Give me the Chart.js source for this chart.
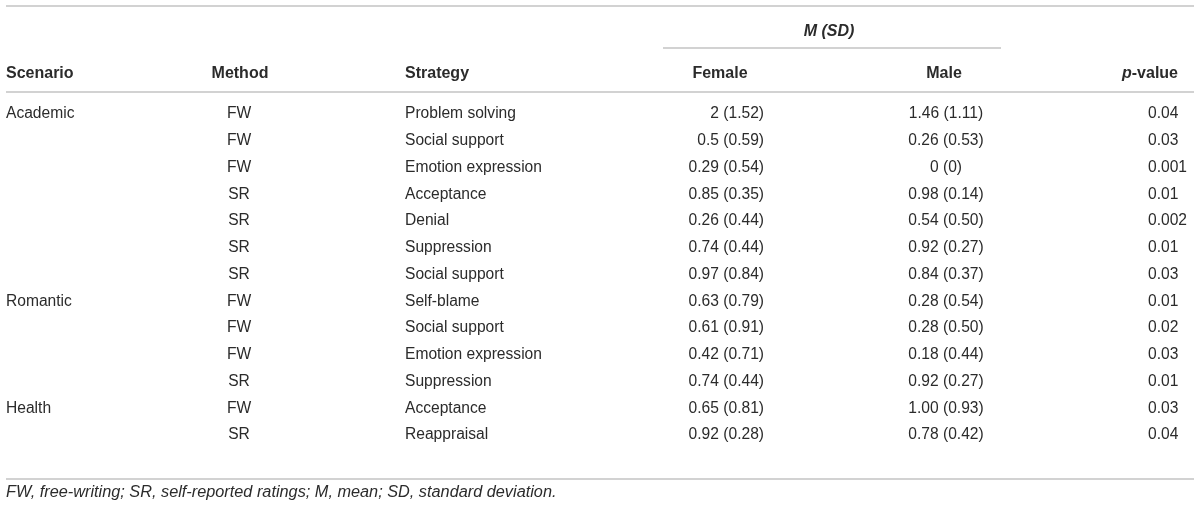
<!DOCTYPE html>
<html>
<head>
<meta charset="utf-8">
<script src="https://cdn.jsdelivr.net/npm/chart.js@4/dist/chart.umd.min.js"></script>
<style>
  html, body { margin: 0; padding: 0; background: #fff; }
  #tableChart { display: block; }
</style>
</head>
<body>
<canvas id="tableChart" width="1200" height="510"></canvas>
<script>
// Table content
const headers = ['Scenario', 'Method', 'Strategy', 'Female', 'Male', 'p-value'];
const groupHeader = 'M (SD)';
const scenarios = ['Academic', '', '', '', '', '', '', 'Romantic', '', '', '', 'Health', ''];
const methods = ['FW', 'FW', 'FW', 'SR', 'SR', 'SR', 'SR', 'FW', 'FW', 'FW', 'SR', 'FW', 'SR'];
const strategies = ['Problem solving', 'Social support', 'Emotion expression', 'Acceptance', 'Denial',
    'Suppression', 'Social support', 'Self-blame', 'Social support', 'Emotion expression',
    'Suppression', 'Acceptance', 'Reappraisal'];
const femaleMean = ['2', '0.5', '0.29', '0.85', '0.26', '0.74', '0.97', '0.63', '0.61', '0.42', '0.74', '0.65', '0.92'];
const femaleSD = ['1.52', '0.59', '0.54', '0.35', '0.44', '0.44', '0.84', '0.79', '0.91', '0.71', '0.44', '0.81', '0.28'];
const maleMean = ['1.46', '0.26', '0', '0.98', '0.54', '0.92', '0.84', '0.28', '0.28', '0.18', '0.92', '1.00', '0.78'];
const maleSD = ['1.11', '0.53', '0', '0.14', '0.50', '0.27', '0.37', '0.54', '0.50', '0.44', '0.27', '0.93', '0.42'];
const pValues = ['0.04', '0.03', '0.001', '0.01', '0.002', '0.01', '0.03', '0.01', '0.02', '0.03', '0.01', '0.03', '0.04'];
const footnote = 'FW, free-writing; SR, self-reported ratings; M, mean; SD, standard deviation.';

// Layout (x in page units, y in row units: row 0 = first body row)
const FONT = '"Liberation Sans", Arial, Helvetica, sans-serif';
const TEXT = '#2b2b2b';
const RULE = '#d2d2d2';
const ROW_H = 26.75;
const FIRST_ROW = 112;
const TEXT_DY = 2; // text sits a little low of the row centre
const layout = {
    topRule: -3.96,
    group: -3.07,
    groupRule: -2.38,
    header: -1.5,
    headerRule: -0.75,
    bottomRule: 13.72,
    footnote: 14.15
};
const columns = [
    { x: 6, align: 'left', headX: 6, headAlign: 'left' },
    { x: 239, align: 'center', headX: 240, headAlign: 'center' },
    { x: 405, align: 'left', headX: 405, headAlign: 'left' },
    { x: 764, align: 'right', headX: 720, headAlign: 'center' },
    { x: 946, align: 'center', headX: 944, headAlign: 'center' },
    { x: 1148, align: 'left', headX: 1178, headAlign: 'right' }
];

const femaleCells = femaleMean.map((m, i) => m + ' (' + femaleSD[i] + ')');
const maleCells = maleMean.map((m, i) => m + ' (' + maleSD[i] + ')');
const cellTexts = [scenarios, methods, strategies, femaleCells, maleCells, pValues];

const tablePlugin = {
    id: 'tableText',
    afterDatasetsDraw(chart) {
        const ctx = chart.ctx;
        const xs = chart.scales.x;
        const ys = chart.scales.y;
        const rule = (yv, x0, x1) => {
            ctx.save();
            ctx.strokeStyle = RULE;
            ctx.lineWidth = 2;
            ctx.beginPath();
            const yp = Math.round(ys.getPixelForValue(yv));
            ctx.moveTo(xs.getPixelForValue(x0), yp);
            ctx.lineTo(xs.getPixelForValue(x1), yp);
            ctx.stroke();
            ctx.restore();
        };

        ctx.save();
        ctx.fillStyle = TEXT;
        ctx.textBaseline = 'middle';

        // body cells, one dataset per column
        chart.data.datasets.forEach((ds, d) => {
            const meta = chart.getDatasetMeta(d);
            ctx.font = '15.6px ' + FONT;
            ctx.textAlign = columns[d].align;
            meta.data.forEach((pt, i) => {
                const t = cellTexts[d][i];
                if (t) ctx.fillText(t, pt.x, pt.y + TEXT_DY);
            });
        });

        // header row
        const hy = ys.getPixelForValue(layout.header) + TEXT_DY;
        headers.forEach((h, c) => {
            const hx = xs.getPixelForValue(columns[c].headX);
            if (h === 'p-value') {
                ctx.textAlign = 'right';
                ctx.font = 'bold 16px ' + FONT;
                ctx.fillText('-value', hx, hy);
                const w = ctx.measureText('-value').width;
                ctx.font = 'italic bold 16px ' + FONT;
                ctx.fillText('p', hx - w, hy);
            } else {
                ctx.textAlign = columns[c].headAlign;
                ctx.font = 'bold 16px ' + FONT;
                ctx.fillText(h, hx, hy);
            }
        });

        // spanning group header
        ctx.textAlign = 'center';
        ctx.font = 'italic bold 16px ' + FONT;
        ctx.fillText(groupHeader, xs.getPixelForValue(829), ys.getPixelForValue(layout.group) + TEXT_DY);

        // footnote
        ctx.textAlign = 'left';
        ctx.font = 'italic 16.3px ' + FONT;
        ctx.fillText(footnote, xs.getPixelForValue(6), ys.getPixelForValue(layout.footnote) + TEXT_DY);
        ctx.restore();

        rule(layout.topRule, 6, 1194);
        rule(layout.groupRule, 663, 1001);
        rule(layout.headerRule, 6, 1194);
        rule(layout.bottomRule, 6, 1194);
    }
};

new Chart(document.getElementById('tableChart'), {
    type: 'scatter',
    data: {
        datasets: columns.map((col, c) => ({
            label: headers[c],
            data: strategies.map((_, i) => ({ x: col.x, y: i })),
            pointRadius: 0,
            pointHoverRadius: 0
        }))
    },
    options: {
        responsive: false,
        animation: false,
        events: [],
        layout: { padding: 0 },
        plugins: {
            legend: { display: false },
            tooltip: { enabled: false }
        },
        scales: {
            x: { type: 'linear', min: 0, max: 1200, display: false },
            y: {
                type: 'linear',
                reverse: true,
                min: -FIRST_ROW / ROW_H,
                max: (510 - FIRST_ROW) / ROW_H,
                display: false
            }
        }
    },
    plugins: [tablePlugin]
});
</script>
</body>
</html>
